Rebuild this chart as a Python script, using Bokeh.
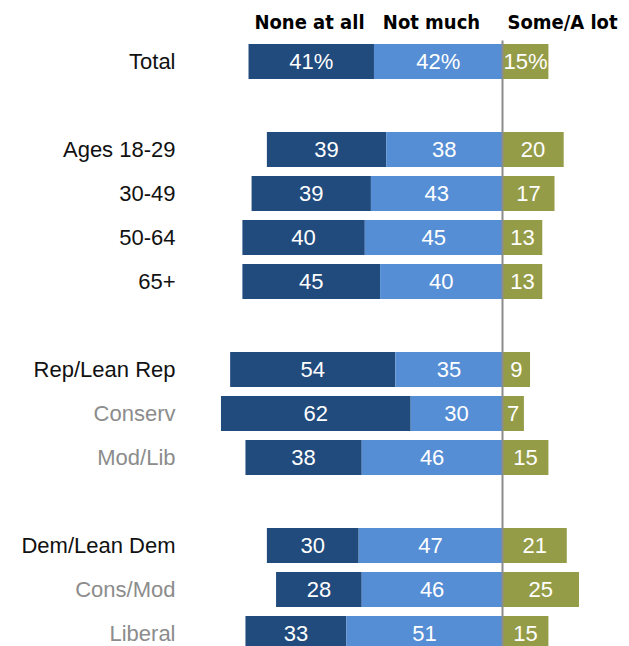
from bokeh.plotting import figure
from bokeh.models import Range1d, ColumnDataSource
from bokeh.core.properties import value
from bokeh.embed import file_html
from bokeh.resources import INLINE

# ---- data ----
rows = ["Total", "", "Ages 18-29", "30-49", "50-64", "65+", "",
        "Rep/Lean Rep", "Conserv", "Mod/Lib", "",
        "Dem/Lean Dem", "Cons/Mod", "Liberal"]
sub_rows = ["Conserv", "Mod/Lib", "Cons/Mod", "Liberal"]
cats = ["Total", "Ages 18-29", "30-49", "50-64", "65+",
        "Rep/Lean Rep", "Conserv", "Mod/Lib",
        "Dem/Lean Dem", "Cons/Mod", "Liberal"]
none_at_all = [41, 39, 39, 40, 45, 54, 62, 38, 30, 28, 33]
not_much = [42, 38, 43, 45, 40, 35, 30, 46, 47, 46, 51]
some_alot = [15, 20, 17, 13, 13, 9, 7, 15, 21, 25, 15]
headers = ["None at all", "Not much", "Some/A lot"]

# ---- layout ----
W, H = 629, 646
PX = 3.06          # pixels per percentage point
X0 = 502           # pixel of zero line
ROW = 44           # pixels per row
Y0 = 61            # pixel of first row center

p = figure(width=W, height=H, output_backend="svg", toolbar_location=None,
           x_range=Range1d(-X0 / PX, (W - X0) / PX),
           y_range=Range1d((H - Y0) / ROW, -Y0 / ROW),
           min_border=0, outline_line_color=None)
p.axis.visible = False
p.grid.visible = False

ys = [rows.index(c) for c in cats]
n_left = [-(a + b) for a, b in zip(none_at_all, not_much)]
n_mid = [-b for b in not_much]
src = ColumnDataSource(dict(
    y=ys,
    l1=n_left, r1=n_mid,
    l2=n_mid, r2=[0] * len(cats),
    l3=[0] * len(cats), r3=some_alot,
    c1=[(a + b) / 2 for a, b in zip(n_left, n_mid)],
    c2=[b / 2 for b in n_mid],
    c3=[s / 2 for s in some_alot],
    t1=[f"{v}%" if i == 0 else str(v) for i, v in enumerate(none_at_all)],
    t2=[f"{v}%" if i == 0 else str(v) for i, v in enumerate(not_much)],
    t3=[f"{v}%" if i == 0 else str(v) for i, v in enumerate(some_alot)],
))

BH = 35 / ROW
p.hbar(y="y", left="l1", right="r1", height=BH, fill_color="#214a7d", line_color=None, source=src)
p.hbar(y="y", left="l2", right="r2", height=BH, fill_color="#558ed5", line_color=None, source=src)
p.hbar(y="y", left="l3", right="r3", height=BH, fill_color="#959c48", line_color=None, source=src)

p.segment(x0=[0], y0=[-21 / ROW], x1=[0], y1=[14], line_color="#8c8c8c", line_width=2)

font = value("Liberation Sans")
for c in ["c1", "c2", "c3"]:
    p.text(x=c, y="y", text="t" + c[1], source=src, text_color="white",
           text_font=font, text_font_size="22px",
           text_align="center", text_baseline="middle")

# row labels
lab_ys = [i for i, r in enumerate(rows) if r]
lab_txt = [r for r in rows if r]
lab_col = ["#8c8c8c" if r in sub_rows else "#111111" for r in lab_txt]
p.text(x=[(175 - X0) / PX] * len(lab_txt), y=lab_ys, text=lab_txt,
       text_color=lab_col, text_font=font, text_font_size="22px",
       text_align="right", text_baseline="middle")

# headers
hx = [(309 - X0) / PX, (431 - X0) / PX, (562 - X0) / PX]
p.text(x=hx, y=[(21 - Y0) / ROW] * 3, text=headers,
       text_color="#000000", text_font=value("DejaVu Sans Condensed"),
       text_font_style="bold", text_font_size="20px",
       text_align="center", text_baseline="middle")

open("out.html", "w").write(file_html(p, INLINE))
